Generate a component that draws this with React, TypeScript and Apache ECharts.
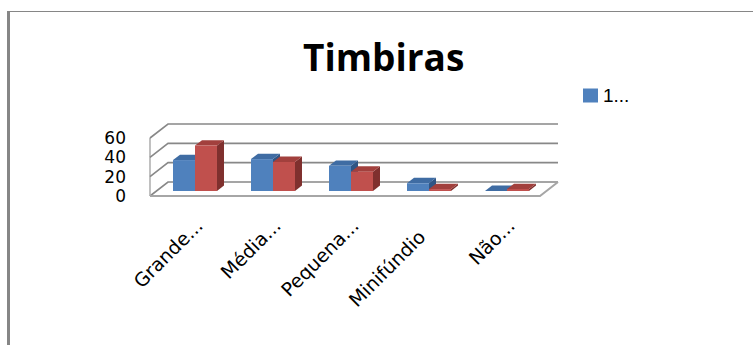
import { useEffect, useRef } from "react";
import * as echarts from "echarts";

// Categories and the two series (values read per category)
const categories = ["Grande...", "Média...", "Pequena...", "Minifúndio", "Não..."];
const seriesNames = ["1...", "2..."];
const serie1 = [32, 33, 26, 8, 0];
const serie2 = [47, 30, 20, 2, 2];
const yTicks = [0, 20, 40, 60];
const Y_MAX = 60;
const Y_STEP = 20;
const chartTitle = "Timbiras";

// Pseudo-3D geometry (pixels)
const WALL_DEPTH: [number, number] = [18, -14];
const BAR_OFFSET: [number, number] = [6, -5];
const BAR_DEPTH: [number, number] = [7, -5.4];
const BAR_FRAC = 0.282;

const GRID_COLOR = "#888888";
const FLOOR_COLOR = "#a6a6a6";

const palettes = [
  { front: "#4F81BD", top: "#3F6CA3", side: "#2F5585" },
  { front: "#C0504D", top: "#A2403D", side: "#7F302E" },
];

const LABEL_FONT = "DejaVu Sans";
const CAT_FONT_SIZE = 19;

function barSeries(name: string, values: number[], idx: number) {
  const c = palettes[idx];
  return {
    type: "custom",
    name,
    xAxisIndex: 0,
    yAxisIndex: 0,
    z: 3,
    itemStyle: { color: c.front },
    encode: { x: 0, y: 1 },
    data: values.map((v, i) => [i, v]),
    renderItem: (_params: any, api: any) => {
      const ci = api.value(0);
      const v = api.value(1);
      const base = api.coord([ci, 0]);
      const top = api.coord([ci, v]);
      const band = api.size([1, 0])[0];
      const w = band * BAR_FRAC;
      const x0 = base[0] + (idx === 0 ? -w : 0) + BAR_OFFSET[0];
      const x1 = x0 + w;
      const yb = base[1] + BAR_OFFSET[1];
      const yt = top[1] + BAR_OFFSET[1];
      const [dx, dy] = BAR_DEPTH;
      return {
        type: "group",
        children: [
          {
            type: "polygon",
            shape: { points: [[x1, yb], [x1 + dx, yb + dy], [x1 + dx, yt + dy], [x1, yt]] },
            style: { fill: c.side },
          },
          {
            type: "polygon",
            shape: { points: [[x0, yt], [x0 + dx, yt + dy], [x1 + dx, yt + dy], [x1, yt]] },
            style: { fill: c.top },
          },
          {
            type: "rect",
            shape: { x: x0, y: yt, width: w, height: Math.max(0, yb - yt) },
            style: { fill: c.front },
          },
        ],
      };
    },
  };
}

// Back wall gridlines, left wall edges and the floor outline
const wallSeries = {
  type: "custom",
  name: "walls",
  xAxisIndex: 0,
  yAxisIndex: 0,
  z: 1,
  silent: true,
  encode: { x: 0, y: 1 },
  data: yTicks.map((t) => [0, t]),
  renderItem: (params: any, api: any) => {
    const cs = params.coordSys;
    const t = api.value(1);
    const y = api.coord([0, t])[1];
    const xl = cs.x;
    const xr = cs.x + cs.width;
    const [dx, dy] = WALL_DEPTH;
    const children: any[] = [
      {
        type: "polyline",
        shape: { points: [[xl, y], [xl + dx, y + dy], [xr + dx, y + dy]] },
        style: { stroke: GRID_COLOR, lineWidth: 1.6, fill: "none" },
      },
    ];
    if (t === 0) {
      const yTop = api.coord([0, Y_MAX])[1];
      children.push(
        {
          type: "line",
          shape: { x1: xl, y1: yTop, x2: xl, y2: y },
          style: { stroke: FLOOR_COLOR, lineWidth: 1.4 },
        },
        {
          type: "polyline",
          shape: { points: [[xl, y], [xr, y], [xr + dx, y + dy]] },
          style: { stroke: FLOOR_COLOR, lineWidth: 2, fill: "none" },
        }
      );
    }
    return { type: "group", children };
  },
};

export default function App() {
  const ref = useRef<HTMLDivElement>(null);

  useEffect(() => {
    if (!ref.current) return;
    const chart = echarts.init(ref.current, undefined, { renderer: "svg" });
    chart.setOption({
      animation: false,
      backgroundColor: "#ffffff",
      title: {
        text: chartTitle,
        left: 303,
        top: 38,
        padding: 0,
        textStyle: { fontFamily: "Open Sans", fontWeight: "bold", fontSize: 37, color: "#000" },
      },
      legend: {
        data: [seriesNames[0]],
        left: 583,
        top: 86,
        padding: 0,
        icon: "rect",
        itemWidth: 15,
        itemHeight: 14,
        textStyle: { fontFamily: "Liberation Sans", fontSize: 19, color: "#000" },
      },
      grid: [
        { left: 150, top: 138, width: 390, height: 58, outerBoundsMode: "none" },
        { left: 160, top: 138, width: 390, height: 58, outerBoundsMode: "none" },
      ],
      xAxis: [
        {
          type: "category",
          gridIndex: 0,
          data: categories,
          axisLine: { show: false },
          axisTick: { show: false },
          axisLabel: { show: false },
        },
        {
          type: "category",
          gridIndex: 1,
          data: categories,
          axisLine: { show: false },
          axisTick: { show: false },
          axisLabel: {
            interval: 0,
            rotate: 45,
            margin: 26,
            color: "#000",
            fontFamily: LABEL_FONT,
            fontSize: CAT_FONT_SIZE,
            formatter: (v: string) => (v.endsWith("...") ? v : `{full|${v}}`),
            rich: {
              full: {
                fontFamily: LABEL_FONT,
                fontSize: CAT_FONT_SIZE,
                color: "#000",
                padding: [0, 16, 0, 0],
              },
            },
          },
        },
      ],
      yAxis: [
        {
          type: "value",
          gridIndex: 0,
          min: 0,
          max: Y_MAX,
          interval: Y_STEP,
          axisLine: { show: false },
          axisTick: { show: false },
          splitLine: { show: false },
          axisLabel: { margin: 24, color: "#000", fontFamily: LABEL_FONT, fontSize: 17 },
        },
        { type: "value", gridIndex: 1, min: 0, max: Y_MAX, show: false },
      ],
      graphic: [
        { type: "rect", shape: { x: 7, y: 11, width: 746, height: 1 }, style: { fill: "#868686" } },
        { type: "rect", shape: { x: 7, y: 11, width: 3, height: 334 }, style: { fill: "#868686" } },
      ],
      series: [wallSeries, barSeries(seriesNames[0], serie1, 0), barSeries(seriesNames[1], serie2, 1)],
    });
    return () => chart.dispose();
  }, []);

  return (
    <div
      ref={ref}
      style={{ position: "fixed", left: 0, top: 0, width: 753, height: 345 }}
    />
  );
}
